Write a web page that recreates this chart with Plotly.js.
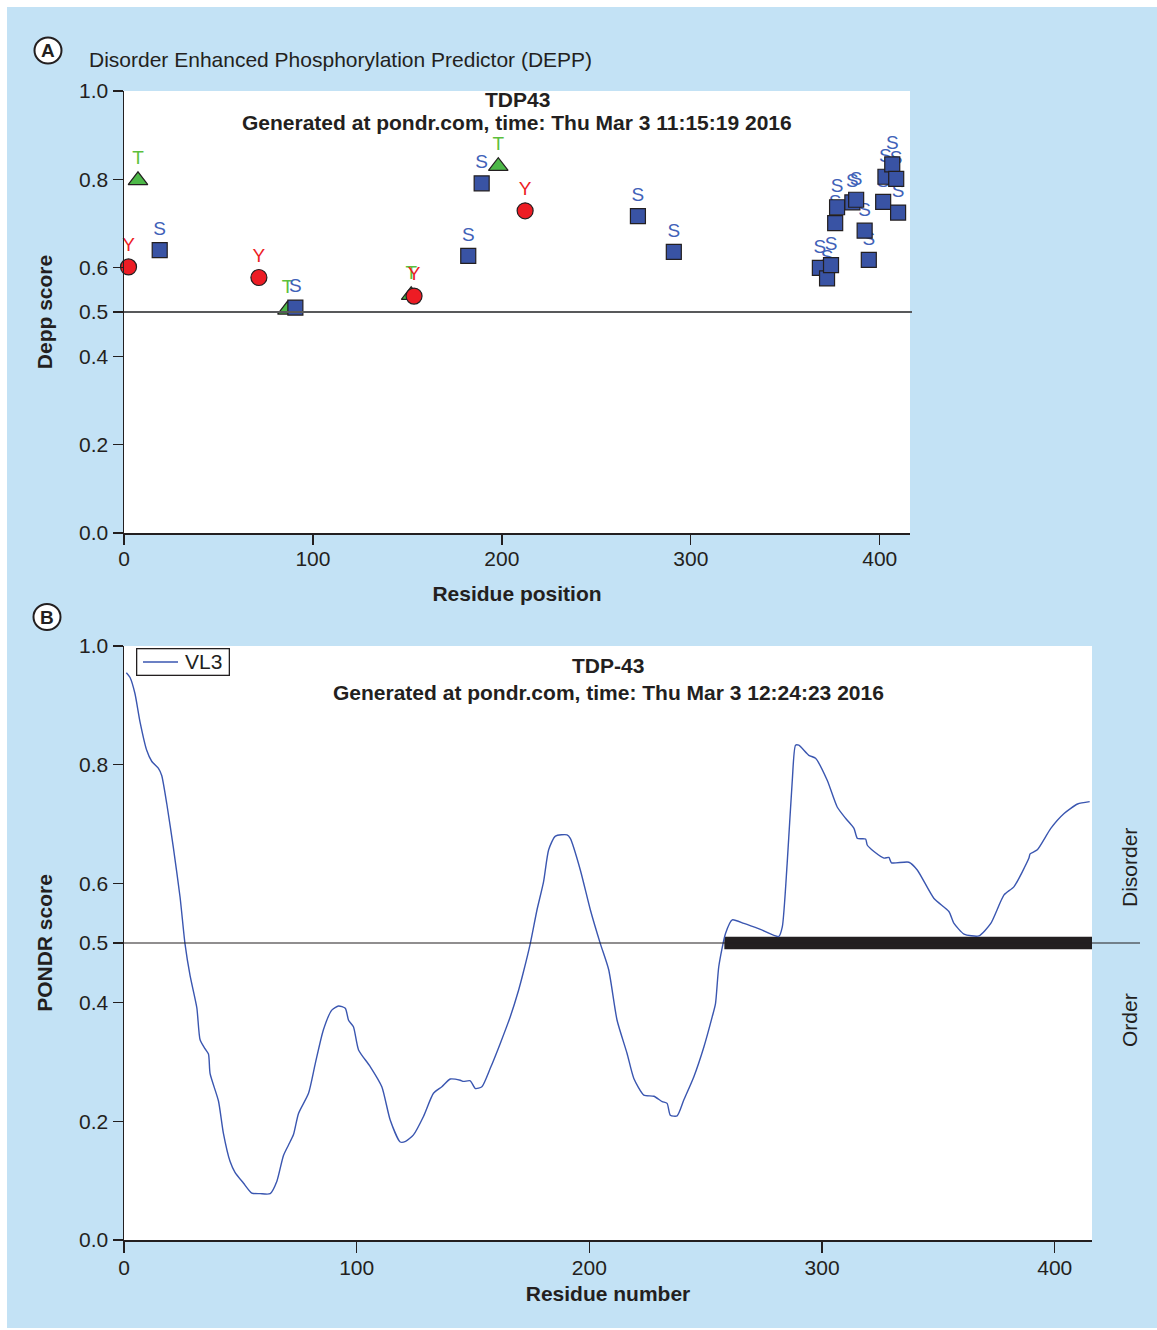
<!DOCTYPE html>
<html>
<head>
<meta charset="utf-8">
<script src="https://cdn.plot.ly/plotly-3.0.1.min.js"></script>
<style>
  html, body { margin: 0; padding: 0; background: #ffffff; }
  #chart { position: absolute; left: 7px; top: 7px; width: 1150px; height: 1321px; }
</style>
</head>
<body>
<div id="chart"></div>
<script>
// ---------- Panel A: DEPP predicted phosphorylation sites ----------
const siteS_pos   = [18.9, 90.7, 182.2, 189.3, 272.0, 291.0, 368.3, 372.1, 374.2, 376.4, 377.4, 385.5, 387.5, 392.0, 394.2, 401.8, 403.0, 406.6, 408.7, 409.7];
const siteS_score = [0.640, 0.510, 0.627, 0.791, 0.717, 0.636, 0.600, 0.576, 0.606, 0.701, 0.737, 0.748, 0.754, 0.684, 0.618, 0.749, 0.806, 0.834, 0.801, 0.725];
const siteY_pos   = [2.4, 71.4, 153.5, 212.3];
const siteY_score = [0.602, 0.578, 0.536, 0.729];
const siteT_pos   = [7.4, 86.5, 152.0, 198.1];
const siteT_score = [0.798, 0.505, 0.538, 0.830];
const deppThreshold = 0.5;

// ---------- Panel B: PONDR VL3 ----------
const vl3_pos = [1, 2.6, 4.7, 6.9, 9.8, 11.9, 14.8, 16.2, 18.4, 21.2, 24.1, 26.2, 28.4, 31.3, 32.7, 34.8, 36.3, 37, 40.6, 42.7,
  45.6, 47.7, 51.3, 54.9, 58.5, 62.8, 65.7, 68.5, 70.7, 72.8, 75, 79.3, 82.2, 85.7, 89.3, 92.2, 95.1, 96.5, 98.6, 100.8,
  105.8, 110.8, 114.4, 118.7, 121, 124.4, 128.7, 133, 136.6, 140.2, 144.5, 145.9, 148.8, 151, 153.8, 157.4, 161.7, 166, 169.6, 171.7,
  174.6, 177.5, 180.3, 182.5, 185.4, 190.4, 191.8, 196.1, 200.4, 204.7, 208.3, 211.9, 216.2, 219.1, 223.4, 227.7, 231.3, 233.4, 234.8, 237.7,
  240.6, 244.9, 249.2, 252.8, 254.2, 255.6, 258.5, 261.4, 266.4, 273.5, 281.4, 282.9, 285, 287.2, 288.6, 290, 294.3, 297.2, 302.2, 306.5,
  310.1, 313.7, 315.2, 318.7, 319.4, 322.3, 326.6, 328.7, 329.8, 337.3, 340.9, 348.1, 354.5, 356.7, 361, 367.4, 372.5, 378.2, 382.5, 388.9,
  389.4, 392.5, 398.3, 404, 409.8, 415];
const vl3_score = [0.955, 0.947, 0.920, 0.872, 0.824, 0.806, 0.794, 0.782, 0.734, 0.661, 0.577, 0.499, 0.445, 0.391, 0.337, 0.322, 0.313, 0.280, 0.234, 0.180,
  0.132, 0.114, 0.096, 0.079, 0.078, 0.078, 0.099, 0.142, 0.160, 0.177, 0.213, 0.247, 0.297, 0.354, 0.387, 0.394, 0.390, 0.370, 0.359, 0.320,
  0.292, 0.258, 0.202, 0.165, 0.166, 0.177, 0.208, 0.247, 0.258, 0.271, 0.269, 0.267, 0.268, 0.255, 0.258, 0.289, 0.331, 0.376, 0.421, 0.452,
  0.499, 0.556, 0.603, 0.657, 0.680, 0.682, 0.676, 0.623, 0.556, 0.499, 0.455, 0.370, 0.314, 0.272, 0.244, 0.242, 0.233, 0.230, 0.210, 0.209,
  0.236, 0.275, 0.325, 0.376, 0.398, 0.460, 0.516, 0.539, 0.533, 0.523, 0.511, 0.527, 0.634, 0.774, 0.833, 0.833, 0.816, 0.811, 0.774, 0.729,
  0.710, 0.693, 0.676, 0.675, 0.665, 0.654, 0.643, 0.644, 0.635, 0.636, 0.623, 0.575, 0.553, 0.533, 0.515, 0.512, 0.533, 0.581, 0.595, 0.643,
  0.650, 0.657, 0.693, 0.718, 0.734, 0.738];
const disorderRegion = [258, 416];
const pondrThreshold = 0.5;

const yTicks = [0, 0.2, 0.4, 0.5, 0.6, 0.8, 1.0];
const yTickText = ['0.0', '0.2', '0.4', '0.5', '0.6', '0.8', '1.0'];
const xTicks = [0, 100, 200, 300, 400];
const xRange = [0, 416];

// ---------- styling ----------
const FONT = 'Liberation Sans, Arial, Helvetica, sans-serif';
const INK = '#231f20';
const BLUE_BG = '#c3e2f5';
const LINE_BLUE = '#3a56b0';
const W = 1150, H = 1321;
const px = v => v / W;          // div x pixel -> paper
const py = v => 1 - v / H;      // div y pixel -> paper

const colS = '#3953a4', colSText = '#4061b8';
const colY = '#ed1c24', colYText = '#ed1c24';
const colT = '#4db848', colTText = '#5cbf3c';

function labelTrace(x, y, txt, size, tcol) {
  return {
    type: 'scatter', mode: 'markers+text', xaxis: 'x', yaxis: 'y',
    x: x, y: y, text: x.map(() => txt), textposition: 'top center',
    textfont: {family: FONT, size: 19, color: tcol},
    marker: {size: size, color: 'rgba(0,0,0,0)', line: {width: 0}},
    showlegend: false, hoverinfo: 'skip', cliponaxis: false
  };
}
function markerTrace(x, y, symbol, size, col) {
  return {
    type: 'scatter', mode: 'markers', xaxis: 'x', yaxis: 'y',
    x: x, y: y,
    marker: {symbol: symbol, size: size, color: col, line: {color: INK, width: 1.2}},
    showlegend: false, hoverinfo: 'skip', cliponaxis: false
  };
}

const traces = [
  labelTrace(siteT_pos, siteT_score, 'T', 17, colTText),
  labelTrace(siteY_pos, siteY_score, 'Y', 16, colYText),
  labelTrace(siteS_pos, siteS_score, 'S', 15, colSText),
  markerTrace(siteT_pos, siteT_score, 'triangle-up', 17, colT),
  markerTrace(siteY_pos, siteY_score, 'circle', 16, colY),
  markerTrace(siteS_pos, siteS_score, 'square', 15, colS),
  {
    type: 'scatter', mode: 'lines', xaxis: 'x2', yaxis: 'y2',
    x: disorderRegion, y: disorderRegion.map(() => pondrThreshold),
    line: {color: INK, width: 12.5},
    showlegend: false, hoverinfo: 'skip'
  },
  {
    type: 'scatter', mode: 'lines', xaxis: 'x2', yaxis: 'y2', name: 'VL3',
    x: vl3_pos, y: vl3_score,
    line: {color: LINE_BLUE, width: 1.4, shape: 'spline', smoothing: 0.6},
    showlegend: false, hoverinfo: 'skip'
  }
];

const axisCommon = {
  showline: true, linecolor: INK, linewidth: 1.5,
  ticks: 'outside', ticklen: 10, tickwidth: 1.3, tickcolor: INK,
  showgrid: false, zeroline: false,
  tickfont: {family: FONT, size: 21, color: INK}
};
const titleFont = {family: FONT, size: 21, color: INK, weight: 'bold'};

const A_x0 = 117, A_x1 = 903, A_y0 = 84, A_y1 = 526;
const B_x0 = 117, B_x1 = 1085, B_y0 = 639, B_y1 = 1233;

const layout = {
  width: W, height: H,
  margin: {l: 0, r: 0, t: 0, b: 0},
  paper_bgcolor: BLUE_BG, plot_bgcolor: '#ffffff',
  font: {family: FONT, color: INK},
  showlegend: false,
  xaxis: Object.assign({}, axisCommon, {
    domain: [px(A_x0), px(A_x1)], anchor: 'y', range: xRange, tickvals: xTicks, ticklabelstandoff: -4,
    title: {text: 'Residue position', font: titleFont, standoff: 17}
  }),
  yaxis: Object.assign({}, axisCommon, {
    domain: [py(A_y1), py(A_y0)], anchor: 'x', range: [0, 1], tickvals: yTicks, ticktext: yTickText,
    title: {text: 'Depp score', font: titleFont, standoff: 20}
  }),
  xaxis2: Object.assign({}, axisCommon, {
    domain: [px(B_x0), px(B_x1)], anchor: 'y2', range: xRange, tickvals: xTicks, ticklen: 11, ticklabelstandoff: -3,
    title: {text: 'Residue number', font: titleFont, standoff: 8}
  }),
  yaxis2: Object.assign({}, axisCommon, {
    domain: [py(B_y1), py(B_y0)], anchor: 'x2', range: [0, 1], tickvals: yTicks, ticktext: yTickText,
    title: {text: 'PONDR score', font: titleFont, standoff: 20}
  }),
  shapes: [
    {type: 'line', xref: 'paper', yref: 'y', x0: px(A_x0), x1: px(905), y0: deppThreshold, y1: deppThreshold,
     line: {color: '#58595b', width: 1.8}},
    {type: 'line', xref: 'paper', yref: 'y2', x0: px(B_x0), x1: px(1133), y0: pondrThreshold, y1: pondrThreshold,
     line: {color: INK, width: 1.2}},
    {type: 'circle', xref: 'paper', yref: 'paper', x0: px(27.5), x1: px(54.5), y0: py(56.5), y1: py(30.5),
     fillcolor: '#ffffff', line: {color: INK, width: 2}},
    {type: 'circle', xref: 'paper', yref: 'paper', x0: px(26.5), x1: px(53.5), y0: py(623), y1: py(597),
     fillcolor: '#ffffff', line: {color: INK, width: 2}},
    // legend sample line for VL3
    {type: 'line', xref: 'paper', yref: 'paper', x0: px(136), x1: px(171), y0: py(655), y1: py(655),
     line: {color: LINE_BLUE, width: 1.4}}
  ],
  annotations: [
    // legend box for VL3
    {xref: 'paper', yref: 'paper', x: px(129), y: py(641), xanchor: 'left', yanchor: 'top',
     text: '&nbsp;&nbsp;&nbsp;&nbsp;&nbsp;&nbsp;&nbsp;&nbsp;VL3&nbsp;', showarrow: false,
     bordercolor: INK, borderwidth: 1.3, borderpad: 1, bgcolor: 'rgba(0,0,0,0)',
     font: {family: FONT, size: 21, color: INK}},
    {xref: 'paper', yref: 'paper', x: px(41), y: py(43.5), text: '<b>A</b>', showarrow: false,
     xanchor: 'center', yanchor: 'middle', font: {family: FONT, size: 19, color: INK}},
    {xref: 'paper', yref: 'paper', x: px(40), y: py(610), text: '<b>B</b>', showarrow: false,
     xanchor: 'center', yanchor: 'middle', font: {family: FONT, size: 19, color: INK}},
    {xref: 'paper', yref: 'paper', x: px(80), y: py(52), text: 'Disorder Enhanced Phosphorylation Predictor (DEPP)',
     showarrow: false, xanchor: 'left', yanchor: 'middle', font: {family: FONT, size: 21, color: INK}},
    {xref: 'paper', yref: 'paper', x: px(510), y: py(92.5), text: '<b>TDP43</b>', showarrow: false,
     xanchor: 'center', yanchor: 'middle', font: {family: FONT, size: 21, color: INK}},
    {xref: 'paper', yref: 'paper', x: px(510), y: py(115), text: '<b>Generated at pondr.com, time: Thu Mar 3 11:15:19 2016</b>',
     showarrow: false, xanchor: 'center', yanchor: 'middle', font: {family: FONT, size: 21, color: INK}},
    {xref: 'paper', yref: 'paper', x: px(601), y: py(658.5), text: '<b>TDP-43</b>', showarrow: false,
     xanchor: 'center', yanchor: 'middle', font: {family: FONT, size: 21, color: INK}},
    {xref: 'paper', yref: 'paper', x: px(601), y: py(685.5), text: '<b>Generated at pondr.com, time: Thu Mar 3 12:24:23 2016</b>',
     showarrow: false, xanchor: 'center', yanchor: 'middle', font: {family: FONT, size: 21, color: INK}},
    {xref: 'paper', yref: 'paper', x: px(1122), y: py(861), text: 'Disorder', textangle: -90, showarrow: false,
     xanchor: 'center', yanchor: 'middle', font: {family: FONT, size: 21, color: INK}},
    {xref: 'paper', yref: 'paper', x: px(1122), y: py(1013), text: 'Order', textangle: -90, showarrow: false,
     xanchor: 'center', yanchor: 'middle', font: {family: FONT, size: 21, color: INK}}
  ]
};

Plotly.newPlot('chart', traces, layout, {displayModeBar: false, staticPlot: true});
</script>
</body>
</html>
